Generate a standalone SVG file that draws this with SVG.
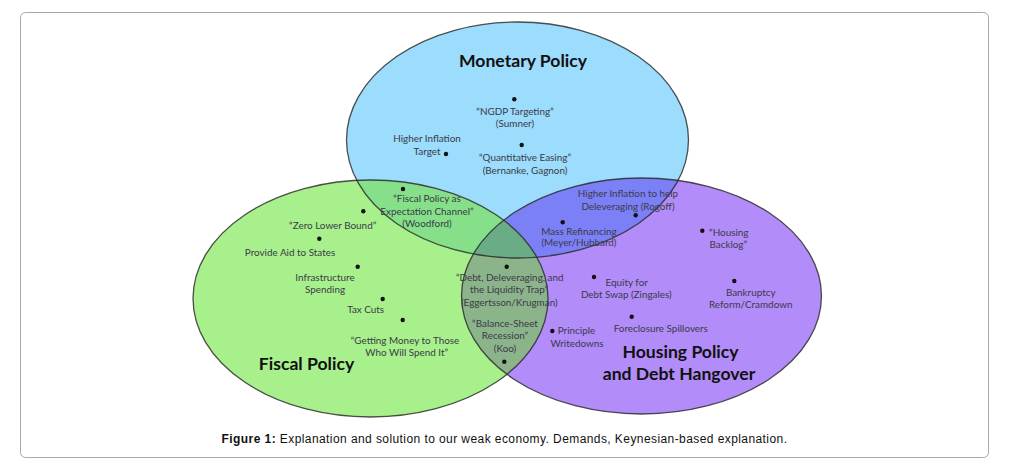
<svg xmlns="http://www.w3.org/2000/svg" xmlns:xlink="http://www.w3.org/1999/xlink" width="1017" height="468" viewBox="0 0 1017 468">
<style>
.lbl{font-family:Lato,"Open Sans","Liberation Sans",sans-serif;font-size:9.9px;fill:#3a3a48;text-anchor:middle}
.ttl{font-family:Lato,"Open Sans","Liberation Sans",sans-serif;font-size:17.6px;font-weight:700;fill:#111;text-anchor:middle}
.dot{fill:#111}
.edge{fill:none;stroke:#262626;stroke-width:1.3;stroke-opacity:0.8}
.cap{font-family:"Liberation Sans",Arial,sans-serif;font-size:12px;letter-spacing:0.42px;fill:#111;text-anchor:middle}
</style>
<defs>
<ellipse id="eB" cx="517.5" cy="140" rx="171" ry="118"/>
<ellipse id="eG" cx="370.5" cy="298.5" rx="177.5" ry="118.5"/>
<ellipse id="eP" cx="641.5" cy="296" rx="180" ry="118"/>
<clipPath id="cB"><use xlink:href="#eB"/></clipPath>
<clipPath id="cG"><use xlink:href="#eG"/></clipPath>
</defs>
<rect x="0" y="0" width="1017" height="468" fill="#fff"/>
<rect id="frame" x="20.5" y="12.5" width="968" height="445" rx="5" fill="#fff" stroke="#a8a8a8" stroke-width="1"/>
<g id="sets">
<use xlink:href="#eB" fill="#9cdcfc"/>
<use xlink:href="#eG" fill="#a8f08c"/>
<use xlink:href="#eP" fill="#b28cf8"/>
<use xlink:href="#eG" fill="#86e08a" clip-path="url(#cB)"/>
<use xlink:href="#eP" fill="#7c80f6" clip-path="url(#cB)"/>
<use xlink:href="#eP" fill="#8cb48a" clip-path="url(#cG)"/>
<g clip-path="url(#cB)"><use xlink:href="#eP" fill="#6aac86" clip-path="url(#cG)"/></g>
<use xlink:href="#eB" class="edge"/>
<use xlink:href="#eG" class="edge"/>
<use xlink:href="#eP" class="edge"/>
</g>
<g id="titles">
<text class="ttl" x="523" y="67">Monetary Policy</text>
<text class="ttl" x="306.5" y="370">Fiscal Policy</text>
<text class="ttl" x="680.5" y="358">Housing Policy</text>
<text class="ttl" x="679" y="380">and Debt Hangover</text>
</g>
<g id="n-ngdp"><circle class="dot" cx="514.3" cy="99.3" r="2.2"/><text class="lbl" x="515" y="115">“NGDP Targeting”</text><text class="lbl" x="515" y="127">(Sumner)</text></g>
<g id="n-hit"><circle class="dot" cx="446" cy="154" r="2.2"/><text class="lbl" x="427" y="142">Higher Inflation</text><text class="lbl" x="427" y="155">Target</text></g>
<g id="n-qe"><circle class="dot" cx="521.7" cy="145" r="2.2"/><text class="lbl" x="525" y="161">“Quantitative Easing”</text><text class="lbl" x="525" y="174">(Bernanke, Gagnon)</text></g>
<g id="n-fpe"><circle class="dot" cx="403" cy="189" r="2.2"/><text class="lbl" x="427" y="202">“Fiscal Policy as</text><text class="lbl" x="427" y="215">Expectation Channel”</text><text class="lbl" x="427" y="227">(Woodford)</text></g>
<g id="n-rogoff"><circle class="dot" cx="635.7" cy="215.3" r="2.2"/><text class="lbl" x="628" y="197">Higher Inflation to help</text><text class="lbl" x="628" y="210">Deleveraging (Rogoff)</text></g>
<g id="n-mass"><circle class="dot" cx="562.7" cy="222.3" r="2.2"/><text class="lbl" x="579" y="235">Mass Refinancing</text><text class="lbl" x="579" y="246">(Meyer/Hubbard)</text></g>
<g id="n-zlb"><circle class="dot" cx="363.3" cy="211.3" r="2.2"/><text class="lbl" x="332.7" y="229">“Zero Lower Bound”</text></g>
<g id="n-aid"><circle class="dot" cx="319.3" cy="238.7" r="2.2"/><text class="lbl" x="290" y="256">Provide Aid to States</text></g>
<g id="n-infra"><circle class="dot" cx="357.7" cy="266.7" r="2.2"/><text class="lbl" x="325" y="280.5">Infrastructure</text><text class="lbl" x="325" y="292.5">Spending</text></g>
<g id="n-tax"><circle class="dot" cx="382.7" cy="299" r="2.2"/><text class="lbl" x="365.7" y="312.5">Tax Cuts</text></g>
<g id="n-money"><circle class="dot" cx="402.7" cy="320" r="2.2"/><text class="lbl" x="405" y="344">“Getting Money to Those</text><text class="lbl" x="406.7" y="356">Who Will Spend It”</text></g>
<g id="n-debt"><circle class="dot" cx="506.7" cy="266.7" r="2.2"/><text class="lbl" x="509.7" y="280.5">“Debt, Deleveraging, and</text><text class="lbl" x="509" y="293">the Liquidity Trap”</text><text class="lbl" x="509.3" y="306">(Eggertsson/Krugman)</text></g>
<g id="n-koo"><circle class="dot" cx="504.3" cy="361.7" r="2.2"/><text class="lbl" x="505" y="326.5">“Balance-Sheet</text><text class="lbl" x="505" y="338.5">Recession”</text><text class="lbl" x="505" y="351.5">(Koo)</text></g>
<g id="n-backlog"><circle class="dot" cx="702.3" cy="230.7" r="2.2"/><text class="lbl" x="728.8" y="235.5">“Housing</text><text class="lbl" x="728.3" y="247.5">Backlog”</text></g>
<g id="n-equity"><circle class="dot" cx="594" cy="277" r="2.2"/><text class="lbl" x="626.7" y="285.5">Equity for</text><text class="lbl" x="626.3" y="298">Debt Swap (Zingales)</text></g>
<g id="n-bank"><circle class="dot" cx="734.3" cy="281" r="2.2"/><text class="lbl" x="750.7" y="296">Bankruptcy</text><text class="lbl" x="750.7" y="308">Reform/Cramdown</text></g>
<g id="n-fore"><circle class="dot" cx="631.7" cy="316.7" r="2.2"/><text class="lbl" x="660.8" y="331.5">Foreclosure Spillovers</text></g>
<g id="n-princ"><circle class="dot" cx="552.3" cy="331" r="2.2"/><text class="lbl" x="576.5" y="334">Principle</text><text class="lbl" x="577" y="346.5">Writedowns</text></g>
<g id="connectors"></g>
<g id="caption"><text class="cap" x="504.5" y="443"><tspan font-weight="700">Figure 1:</tspan> Explanation and solution to our weak economy. Demands, Keynesian-based explanation.</text></g>
</svg>
